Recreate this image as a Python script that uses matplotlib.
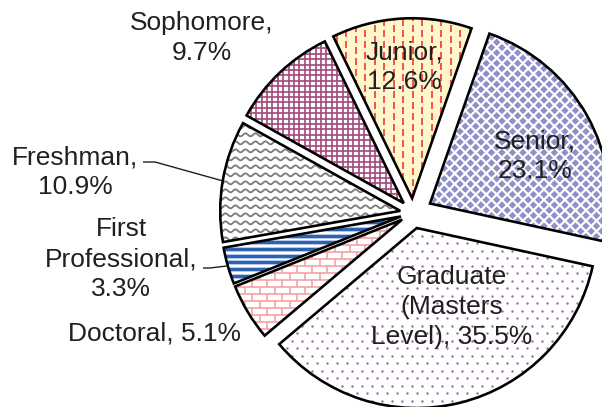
import numpy as np
import matplotlib.pyplot as plt
from matplotlib.collections import LineCollection, PolyCollection
from matplotlib.patches import Wedge

# slices in clockwise order, starting at the left
names = ['Freshman', 'Sophomore', 'Junior', 'Senior',
         'Graduate\n(Masters\nLevel)', 'Doctoral', 'First\nProfessional']
shares = [10.9, 9.7, 12.6, 23.1, 35.5, 5.1, 3.3]
explode = [0.072, 0.075, 0.082, 0.108, 0.086, 0.07, 0.07]

W, H = 602, 407
CX, CY, R = 413, 213, 180      # pie centre / radius in pixels
P = 1.0 / R                     # one pixel in data units
LW = 0.72                       # one pixel in points
TXT = '#231f20'

def xy(px, py):
    return (px - CX) * P, (CY - py) * P

fig = plt.figure(figsize=(W / 100, H / 100), dpi=100)
ax = fig.add_axes([0, 0, 1, 1])

bgs = ['white', 'white', '#fff6cc', 'white', 'white', 'white', 'white']
wedges, _ = ax.pie(shares, explode=explode, startangle=190, counterclock=False,
                   colors=bgs, radius=1.0,
                   wedgeprops=dict(edgecolor='none', linewidth=0))

ax.set_xlim(-CX * P, (W - CX) * P)
ax.set_ylim(-(H - CY) * P, CY * P)
ax.set_aspect('auto')
ax.axis('off')


def box(w):
    cx, cy = w.center
    return cx - w.r, cx + w.r, cy - w.r, cy + w.r


def add(art, w):
    art.set_zorder(2)
    ax.add_artist(art)
    art.set_clip_path(w)


def dashes(w, color, step, on, off):
    x0, x1, y0, y1 = box(w)
    per = (on + off) * P
    segs = []
    for i, x in enumerate(np.arange(x0, x1, step * P)):
        start = y0 - per + (i % 2) * per / 2
        for y in np.arange(start, y1, per):
            segs.append([(x, y), (x, y + on * P)])
    add(LineCollection(segs, colors=color, linewidths=1.7 * LW), w)


def diamonds(w, color, step, half):
    x0, x1, y0, y1 = box(w)
    h = half * P
    polys = []
    for j, y in enumerate(np.arange(y0, y1, step * P / 2)):
        for x in np.arange(x0 + (j % 2) * step * P / 2, x1, step * P):
            polys.append([(x - h, y), (x, y + h), (x + h, y), (x, y - h)])
    add(PolyCollection(polys, facecolors=color, edgecolors='none'), w)


def dots(w, color, dx, dy, size):
    x0, x1, y0, y1 = box(w)
    pts = []
    for j, y in enumerate(np.arange(y0, y1, dy * P)):
        for x in np.arange(x0 + (j % 2) * dx * P / 2, x1, dx * P):
            pts.append((x, y))
    pts = np.array(pts)
    sc = ax.scatter(pts[:, 0], pts[:, 1], s=size, c=color, linewidths=0)
    sc.set_zorder(2)
    sc.set_clip_path(w)


def bricks(w, color, rowh, brickw):
    x0, x1, y0, y1 = box(w)
    segs = []
    for j, y in enumerate(np.arange(y0, y1, rowh * P)):
        segs.append([(x0, y), (x1, y)])
        for x in np.arange(x0 + (j % 2) * brickw * P / 2, x1, brickw * P):
            segs.append([(x, y), (x, y + rowh * P)])
    add(LineCollection(segs, colors=color, linewidths=1.6 * LW), w)


def stripes(w, dark, light, period):
    x0, x1, y0, y1 = box(w)
    ys = np.arange(y0, y1, period * P)
    add(LineCollection([[(x0, y), (x1, y)] for y in ys], colors=light,
                       linewidths=5.0 * LW), w)
    add(LineCollection([[(x0, y), (x1, y)] for y in ys], colors=dark,
                       linewidths=3.0 * LW), w)


def waves(w, color, spacing, wavelen, amp):
    x0, x1, y0, y1 = box(w)
    xs = np.linspace(x0, x1, 400)
    segs = [np.column_stack([xs, y + amp * P * np.sin(2 * np.pi * xs / (wavelen * P))])
            for y in np.arange(y0, y1, spacing * P)]
    add(LineCollection(segs, colors=color, linewidths=1.8 * LW), w)


def grid(w, color, step):
    x0, x1, y0, y1 = box(w)
    segs = [[(x, y0), (x, y1)] for x in np.arange(x0, x1, step * P)]
    segs += [[(x0, y), (x1, y)] for y in np.arange(y0, y1, step * P)]
    add(LineCollection(segs, colors=color, linewidths=1.7 * LW), w)


waves(wedges[0], '#7a7a7a', 8.0, 10.0, 1.5)
grid(wedges[1], '#a44a7c', 5.4)
dashes(wedges[2], '#ee3d3a', 9.5, 7.0, 4.0)
diamonds(wedges[3], '#9090c8', 10.5, 3.7)
dots(wedges[4], '#9a6aa8', 10.0, 7.5, 3.0)
bricks(wedges[5], '#f4a0a0', 7.0, 15.0)
stripes(wedges[6], '#2e62b0', '#b3c8ea', 6.7)

# black outlines on top of the textures
for w in wedges:
    ax.add_patch(Wedge(w.center, w.r, w.theta1, w.theta2, fill=False,
                       edgecolor='black', linewidth=2.6 * LW,
                       joinstyle='miter', zorder=3))

# labels (pixel positions of the text block centres)
seps = ['\n', '\n', '\n', '\n', ' ', ' ', '\n']
label_pos = [(75, 172), (202, 38), (404, 67), (535, 156),
             (452, 307), (154, 333), (121, 259)]
for name, v, sep, (px, py) in zip(names, shares, seps, label_pos):
    ax.text(*xy(px, py), f'{name},{sep}{v}%', ha='center', va='center',
            fontsize=19, family='Liberation Sans', color=TXT,
            linespacing=1.3, zorder=4)

# leader lines for the two outside labels
leaders = {0: [(143, 162), (155, 162)], 6: [(203, 268), (210, 268)]}
for i, pts in leaders.items():
    w = wedges[i]
    tm = np.deg2rad((w.theta1 + w.theta2) / 2)
    end = (w.center[0] + w.r * np.cos(tm), w.center[1] + w.r * np.sin(tm))
    line = [xy(*p) for p in pts] + [end]
    ax.plot([p[0] for p in line], [p[1] for p in line], color=TXT,
            linewidth=1.4 * LW, zorder=4, solid_capstyle='butt')

fig.savefig('out.png', dpi=100)
